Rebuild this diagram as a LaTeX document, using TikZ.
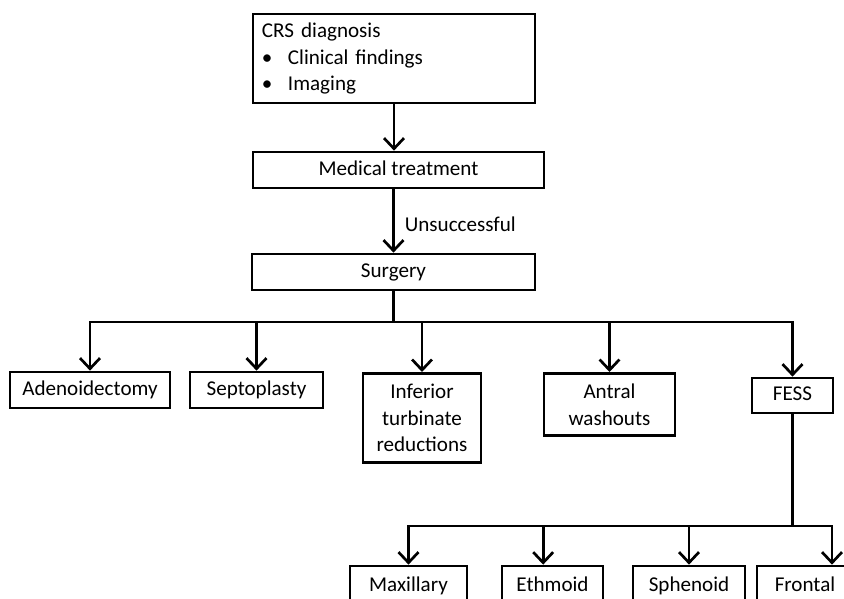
\documentclass[tikz,border=0pt]{standalone}
\usepackage{fontspec}
\setmainfont{Carlito}
\usetikzlibrary{arrows.meta}

\tikzset{
  box/.style={draw, line width=2.3pt, inner sep=0pt, align=center,
    font=\fontsize{18}{21.5}\selectfont},
  onebox/.style={box, text height=12.5pt, text depth=3.5pt},
  link/.style={line width=2.3pt},
  bus/.style={link, line cap=rect},
  arr/.style={link, -{Straight Barb[length=9pt, width=17pt]}},
  note/.style={inner sep=0pt, font=\fontsize{18}{21.5}\selectfont}
}

\begin{document}
\begin{tikzpicture}[x=0.03cm, y=-0.03cm]
\def\ybus{322};
\def\ylow{526};
\def\ytop{390};
\def\ybot{586};

\clip (0,0) rectangle (844,599);

\coordinate (bus) at (0,\ybus);
\coordinate (low) at (0,\ylow);

\node[box, minimum width=8.46cm, minimum height=2.67cm, text width=7.92cm, align=left, font=\fontsize{18}{22.5}\selectfont] (crs) at (394,58.5)
  {CRS diagnosis\\
   \makebox[0.78cm][l]{\textbullet}Clinical findings\\
   \makebox[0.78cm][l]{\textbullet}Imaging};
\node[onebox, minimum width=8.73cm, minimum height=1.08cm] (med) at (398.5,170) {Medical treatment};
\node[onebox, minimum width=8.49cm, minimum height=1.08cm] (surg) at (393.5,272) {Surgery};

% first row
\node[onebox, minimum width=4.8cm, minimum height=1.08cm] (adeno) at (90,\ytop) {Adenoidectomy};
\node[onebox, minimum width=3.99cm, minimum height=1.08cm] (septo) at (256.5,\ytop) {Septoplasty};
\node[box, minimum width=3.54cm, minimum height=2.67cm, anchor=north, font=\fontsize{18}{23}\selectfont] (infer) at (422,372) {Inferior\\turbinate\\reductions};
\node[box, minimum width=3.93cm, minimum height=1.86cm, anchor=north, font=\fontsize{18}{23}\selectfont] (antral) at (609.5,372) {Antral\\washouts};
\node[onebox, minimum width=2.43cm, minimum height=1.05cm] (fess) at (792.5,395.5) {FESS};

% second row
\node[onebox, minimum width=3.51cm, minimum height=1.2cm] (maxi) at (408.5,\ybot) {Maxillary};
\node[onebox, minimum width=3.03cm, minimum height=1.2cm] (ethm) at (552.5,\ybot) {Ethmoid};
\node[onebox, minimum width=3.36cm, minimum height=1.2cm] (sphe) at (689,\ybot) {Sphenoid};
\node[onebox, minimum width=2.88cm, minimum height=1.2cm] (front) at (805,\ybot) {Frontal};

\draw[arr] (crs.south) -- (crs.south |- med.north);
\draw[arr] (med.south -| surg.north) -- (surg.north)
  node[note, pos=0.55, right=0.3cm] {Unsuccessful};

\draw[link] (surg.south) -- (surg.south |- bus);
\draw[bus] (adeno.north |- bus) -- (fess.north |- bus);
\foreach \n in {adeno,septo,infer,antral,fess}
  \draw[arr] (\n.north |- bus) -- (\n.north);

\draw[link] (fess.south) -- (fess.south |- low);
\draw[bus] (maxi.north |- low) -- ([xshift=0.81cm]front.north |- low);
\draw[arr] (maxi.north |- low) -- (maxi.north);
\draw[arr] ([xshift=-0.28cm]ethm.north |- low) -- ([xshift=-0.28cm]ethm.north);
\draw[arr] (sphe.north |- low) -- (sphe.north);
\draw[arr] ([xshift=0.81cm]front.north |- low) -- ([xshift=0.81cm]front.north);

\end{tikzpicture}
\end{document}
